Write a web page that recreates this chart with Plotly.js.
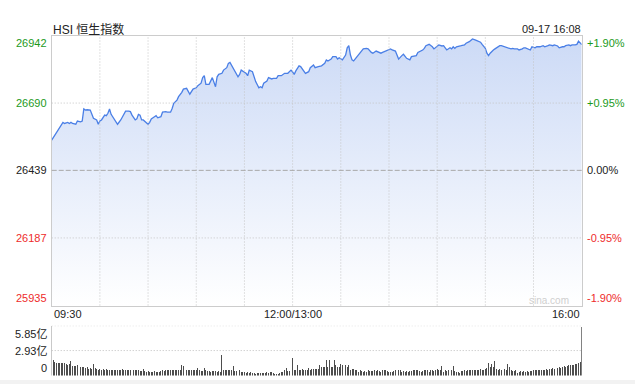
<!DOCTYPE html>
<html>
<head>
<meta charset="utf-8">
<script src="https://cdn.plot.ly/plotly-3.0.1.min.js"></script>
<style>
html,body{margin:0;padding:0;background:#fff;}
#chart{width:635px;height:384px;}
</style>
</head>
<body>
<div id="chart"></div>
<script>
// ---------- data ----------
const tradeDate = '2025-09-17';
const chartTitle = 'HSI 恒生指数';
const stampText = '09-17 16:08';
const prevClose = 26439;

const lineTimes = ['09:30','09:32','09:33','09:35','09:37','09:38','09:40','09:41','09:42','09:43','09:45','09:46','09:48','09:49','09:50','09:51','09:52','09:54','09:55','09:56','09:58','09:59',
'10:00','10:01','10:03','10:04','10:05','10:06','10:07','10:08','10:10','10:11','10:13','10:15','10:16','10:18','10:19','10:20','10:22','10:23','10:24','10:25','10:26','10:27','10:29',
'10:30','10:31','10:32','10:34','10:35','10:36','10:38','10:39','10:41','10:42','10:44','10:45','10:46','10:48','10:49','10:51','10:52','10:54','10:55','10:56','10:58',
'11:00','11:01','11:03','11:04','11:05','11:06','11:08','11:10','11:11','11:12','11:13','11:14','11:16','11:17','11:19','11:20','11:21','11:23','11:24','11:26','11:27','11:28',
'11:30','11:31','11:32','11:33','11:35','11:36','11:37','11:39','11:40','11:41','11:42','11:44','11:45','11:47','11:48','11:50','11:51','11:53','11:54','11:55','11:57','11:58','11:59',
'13:00','13:01','13:02','13:04','13:05','13:06','13:07','13:08','13:10','13:11','13:13','13:14','13:16','13:18','13:20','13:21','13:22','13:24','13:25','13:27','13:28','13:29',
'13:31','13:32','13:33','13:34','13:35','13:36','13:37','13:38','13:39','13:41','13:42','13:44','13:46','13:47','13:49','13:50','13:52','13:53','13:55','13:56','13:58',
'14:00','14:01','14:02','14:04','14:05','14:06','14:08','14:09','14:11','14:13','14:14','14:16','14:17','14:18','14:20','14:21','14:22','14:23','14:25','14:27','14:28',
'14:30','14:31','14:33','14:34','14:35','14:36','14:38','14:39','14:40','14:41','14:42','14:44','14:45','14:47','14:48','14:50','14:51','14:52','14:54','14:56','14:57','14:58',
'15:00','15:01','15:02','15:03','15:04','15:05','15:06','15:07','15:09','15:10','15:12','15:13','15:14','15:16','15:17','15:18','15:20','15:21','15:23','15:24','15:25','15:27','15:28','15:29',
'15:31','15:32','15:34','15:36','15:37','15:39','15:40','15:42','15:43','15:45','15:46','15:48','15:49','15:50','15:52','15:53','15:54','15:56','15:57','15:58','15:59','16:00'];

const lineValues = [26552,26571,26581,26602,26618,26614,26618,26614,26618,26614,26611,26623,26620,26623,26668,26664,26665,26664,26645,26633,26627,26611,
26623,26627,26645,26643,26652,26668,26648,26639,26618,26611,26627,26648,26660,26660,26658,26645,26627,26631,26648,26645,26627,26627,26618,
26611,26618,26631,26639,26643,26635,26639,26656,26658,26656,26656,26670,26689,26701,26714,26730,26742,26745,26735,26723,26742,
26747,26755,26764,26785,26792,26760,26760,26785,26770,26751,26788,26797,26801,26813,26822,26838,26842,26822,26810,26788,26797,26813,
26805,26801,26792,26813,26807,26788,26770,26747,26751,26747,26764,26772,26785,26780,26782,26782,26792,26792,26797,26801,26801,26807,26813,
26806,26797,26810,26829,26826,26817,26805,26801,26807,26822,26832,26822,26826,26829,26838,26851,26847,26854,26863,26863,26854,26859,
26851,26859,26869,26896,26904,26869,26851,26847,26854,26867,26876,26892,26894,26892,26879,26876,26884,26882,26876,26879,26884,
26888,26892,26888,26884,26869,26854,26867,26872,26857,26851,26863,26867,26867,26879,26884,26888,26894,26904,26909,26900,26892,
26900,26907,26903,26904,26896,26888,26896,26892,26900,26894,26900,26904,26904,26907,26913,26919,26925,26929,26925,26921,26917,26909,
26894,26876,26867,26876,26884,26888,26892,26896,26904,26904,26900,26896,26896,26892,26894,26892,26892,26888,26892,26896,26896,26892,26888,26900,
26896,26900,26900,26904,26900,26904,26907,26904,26907,26903,26896,26900,26900,26904,26907,26904,26907,26907,26909,26921,26913,26908];

// volume per minute (亿), morning 09:30-11:59, afternoon 13:00-16:00
const volAM = [5.80,
1.78,1.55,1.50,1.47,1.52,1.50,1.48,1.45,1.40,1.28,
1.30,1.70,1.10,1.08,1.12,1.20,1.08,1.00,1.02,1.00,
0.85,1.00,0.81,0.85,0.81,1.30,0.85,0.81,0.70,0.72,
0.70,0.75,0.70,0.72,0.62,0.70,0.66,0.62,0.70,0.62,
0.62,0.70,0.66,0.72,0.62,0.70,0.66,0.62,0.70,0.68,
0.60,0.66,0.70,0.62,0.54,0.58,0.81,0.54,0.43,0.50,
0.43,0.45,0.43,0.48,0.43,0.45,0.43,0.54,0.62,0.58,
0.62,0.62,0.60,0.62,0.62,0.66,0.62,0.64,0.62,0.70,
1.28,1.09,0.70,0.66,0.70,0.62,0.66,0.70,0.62,0.70,
0.93,0.62,0.54,0.50,0.93,0.62,0.54,0.50,0.43,0.50,
0.54,0.50,0.43,0.50,0.43,2.36,0.62,0.60,0.62,0.62,
0.60,0.62,1.09,0.54,0.54,0.54,0.62,0.45,0.43,0.43,
0.31,0.43,0.31,0.40,0.31,0.31,0.23,0.31,0.28,0.33,
0.31,0.35,0.31,0.43,0.31,0.38,0.43,0.31,0.23,0.16,
0.23,0.31,0.40,0.43,0.62,0.93,0.50,0.55,0.62];

const volPM = [2.05,
0.70,0.62,1.20,0.66,0.70,0.81,0.70,0.66,0.70,0.93,
0.62,0.81,0.78,0.74,0.74,0.74,1.20,1.05,1.01,1.01,
1.78,1.01,1.78,1.01,0.98,1.78,1.20,1.05,1.01,1.40,
1.20,1.15,1.20,0.95,1.20,0.62,0.81,0.81,0.62,0.62,
0.43,0.62,0.50,0.43,0.54,0.43,0.62,0.50,0.54,0.54,
0.62,0.54,0.70,0.54,0.43,0.62,0.62,0.70,0.54,0.43,
0.43,0.43,0.54,0.62,0.54,0.62,0.62,0.43,0.50,0.43,
0.54,0.43,0.54,0.54,0.62,0.70,0.62,0.62,0.54,0.43,
0.54,0.62,0.70,0.62,0.43,0.62,0.70,0.54,0.70,0.81,
0.62,0.70,1.09,0.43,0.62,0.54,0.62,0.54,0.70,1.09,
0.54,0.43,0.43,0.31,0.54,0.54,0.62,0.54,0.62,0.70,
0.62,0.70,0.62,0.70,0.62,0.70,0.81,0.62,0.70,0.81,
0.93,1.47,1.01,1.40,1.01,1.67,0.81,0.62,0.81,0.70,
0.62,0.81,0.70,1.40,1.01,0.70,0.54,0.54,0.62,0.31,
0.43,0.54,0.43,0.54,0.43,0.54,0.43,0.54,0.54,0.62,
0.62,0.70,0.62,0.70,0.62,0.70,0.70,0.81,0.70,0.81,
0.81,0.93,0.81,0.93,0.93,1.01,0.93,1.01,1.09,1.01,
1.09,1.20,1.20,1.28,1.20,1.40,1.35,1.50,1.60,
5.67];

const priceTicks = [26942, 26690, 26439, 26187, 25935];
const pctLabels  = ['+1.90%', '+0.95%', '0.00%', '-0.95%', '-1.90%'];
const priceGrid  = [26690, 26187];
const volTicks   = [5.85, 2.93, 0];
const volLabels  = ['5.85亿', '2.93亿', '0'];
const volGrid    = [5.85, 2.93];
const xLabelTimes = ['09:30', '13:00', '16:00'];
const xLabels     = ['09:30', '12:00/13:00', '16:00'];
const gridTimes   = ['10:00','10:30','11:00','11:30','13:00','13:30','14:00','14:30','15:00','15:30'];

// ---------- build ----------
const D = t => tradeDate + ' ' + t + ':00';
const pad = n => (n < 10 ? '0' : '') + n;
function minutes(h0, m0, count) {
  const out = [];
  for (let i = 0; i < count; i++) {
    const tot = h0 * 60 + m0 + i;
    out.push(pad(Math.floor(tot / 60)) + ':' + pad(tot % 60));
  }
  return out;
}
const volTimes = minutes(9, 30, volAM.length).concat(minutes(13, 0, volPM.length));
const volValues = volAM.concat(volPM);

const W = 635, H = 384;
const px = v => v / W;          // horizontal pixel -> paper
const py = v => (H - v) / H;    // vertical pixel -> paper
const FONT = 'Liberation Sans, Arial, Noto Sans CJK SC, sans-serif';
const GREEN = '#1c9a1c', RED = '#ee2b2b', DARK = '#222';
const colorFor = v => v > prevClose ? GREEN : (v < prevClose ? RED : DARK);
const DOT = '1px,2px';

const breaks = [{ bounds: [12, 13], pattern: 'hour' }];

const traces = [
  {
    type: 'scatter', mode: 'lines',
    x: lineTimes.map(D), y: lineValues,
    line: { color: '#4a7fe6', width: 1.3 },
    fill: 'tozeroy',
    fillgradient: { type: 'vertical', colorscale: [[0, '#ffffff'], [1, '#ccdaf6']], start: 25935, stop: 26942 },
    hoverinfo: 'skip', xaxis: 'x', yaxis: 'y'
  },
  {
    type: 'bar',
    x: volTimes.map(D), y: volValues,
    width: 36000,
    marker: { color: '#4d4d4d', line: { width: 0 } },
    hoverinfo: 'skip', xaxis: 'x2', yaxis: 'y2'
  }
];

const annotations = [];
priceTicks.forEach((v, i) => {
  const anchor = i === 0 ? 'top' : (i === priceTicks.length - 1 ? 'bottom' : 'middle');
  annotations.push({ xref: 'paper', yref: 'y', x: px(49), y: v, xanchor: 'right', yanchor: anchor,
    text: String(v), showarrow: false, font: { family: FONT, size: 11, color: colorFor(v) } });
  annotations.push({ xref: 'paper', yref: 'y', x: px(585), y: v, xanchor: 'left', yanchor: anchor,
    text: pctLabels[i], showarrow: false, font: { family: FONT, size: 11, color: colorFor(v) } });
});
volTicks.forEach((v, i) => {
  const anchor = i === 0 ? 'top' : (i === volTicks.length - 1 ? 'bottom' : 'middle');
  annotations.push({ xref: 'paper', yref: 'y2', x: px(49), y: v, xanchor: 'right', yanchor: anchor,
    text: volLabels[i], showarrow: false, font: { family: FONT, size: 11, color: DARK } });
});
xLabelTimes.forEach((t, i) => {
  annotations.push({ xref: 'x', yref: 'paper', x: D(t), y: py(314), xanchor: i === 0 ? 'left' : (i === xLabelTimes.length - 1 ? 'right' : 'center'),
    yanchor: 'middle', text: xLabels[i], showarrow: false, font: { family: FONT, size: 11, color: DARK } });
});
annotations.push({ xref: 'paper', yref: 'paper', x: px(51), y: py(29), xanchor: 'left', yanchor: 'middle',
  text: chartTitle, showarrow: false, font: { family: FONT, size: 12, color: DARK } });
annotations.push({ xref: 'paper', yref: 'paper', x: px(583), y: py(29), xanchor: 'right', yanchor: 'middle',
  text: stampText, showarrow: false, font: { family: FONT, size: 11, color: DARK } });
annotations.push({ xref: 'paper', yref: 'paper', x: px(571), y: py(300), xanchor: 'right', yanchor: 'middle',
  text: 'sina.com', showarrow: false, font: { family: FONT, size: 10, color: '#cfcfcf' } });

// grid lines drawn above the fill
const shapes = [];
gridTimes.forEach(t => shapes.push({ type: 'line', xref: 'x', yref: 'y domain', x0: D(t), x1: D(t), y0: 0, y1: 1,
  layer: 'above', line: { color: '#c4c4c4', width: 1, dash: DOT } }));
priceGrid.forEach(v => shapes.push({ type: 'line', xref: 'x domain', yref: 'y', x0: 0, x1: 1, y0: v, y1: v,
  layer: 'above', line: { color: '#c4c4c4', width: 1, dash: DOT } }));
volGrid.forEach(v => shapes.push({ type: 'line', xref: 'x2 domain', yref: 'y2', x0: 0, x1: 1, y0: v, y1: v,
  layer: 'above', line: { color: '#bdbdbd', width: 1, dash: DOT } }));
shapes.push({ type: 'line', xref: 'x domain', yref: 'y', x0: 0, x1: 1, y0: prevClose, y1: prevClose,
  layer: 'above', line: { color: '#a8a8a8', width: 1, dash: '5px,2px' } });
shapes.push({ type: 'rect', xref: 'paper', yref: 'paper', x0: 0, x1: 1, y0: 0, y1: py(380), layer: 'below',
  fillcolor: '#f2f2f2', line: { width: 0 } });

const xDomain = [px(51.7), px(581.7)];
const layout = {
  width: W, height: H,
  margin: { l: 0, r: 0, t: 0, b: 0, pad: 0 },
  paper_bgcolor: '#ffffff', plot_bgcolor: 'rgba(0,0,0,0)',
  showlegend: false,
  font: { family: FONT },
  xaxis: {
    type: 'date', domain: xDomain, anchor: 'y',
    range: [D('09:30'), D('16:00')], rangebreaks: breaks,
    showgrid: false, showticklabels: false, ticks: '',
    showline: true, mirror: true, linecolor: '#cccccc', linewidth: 1, zeroline: false, fixedrange: true
  },
  yaxis: {
    domain: [py(305.5), py(35.5)], anchor: 'x',
    range: [25935, 26942],
    showgrid: false, showticklabels: false, ticks: '',
    showline: true, mirror: true, linecolor: '#cccccc', linewidth: 1, zeroline: false, fixedrange: true
  },
  xaxis2: {
    type: 'date', domain: xDomain, anchor: 'y2',
    range: [D('09:30'), D('16:00')], rangebreaks: breaks,
    showgrid: false, showticklabels: false, ticks: '', showline: false, zeroline: false, fixedrange: true
  },
  yaxis2: {
    domain: [py(375.5), py(325.7)], anchor: 'x2',
    range: [0, 5.85],
    showgrid: false, showticklabels: false, ticks: '',
    showline: false, zeroline: false, fixedrange: true
  },
  bargap: 0,
  shapes: shapes,
  annotations: annotations
};

Plotly.newPlot('chart', traces, layout, { displayModeBar: false, staticPlot: true });
</script>
</body>
</html>
